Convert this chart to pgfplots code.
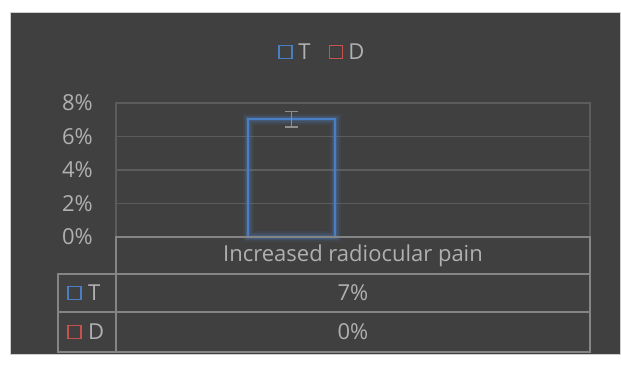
\documentclass[border=0pt]{standalone}
\usepackage{pgfplots}
\pgfplotsset{compat=1.18}
\usepackage{fontspec}
\setmainfont{Open Sans}

\definecolor{panelbg}{HTML}{404040}
\definecolor{paneledge}{HTML}{CFCFCF}
\definecolor{gridgray}{HTML}{5C5C5C}
\definecolor{tablegray}{HTML}{858585}
\definecolor{labelgray}{HTML}{B0B0B0}
\definecolor{errgray}{HTML}{8F8F8F}
\definecolor{tblue}{HTML}{4A7EC4}
\definecolor{dred}{HTML}{C8504D}

\newcommand{\lblfont}{\fontsize{22}{26}\selectfont}
\newcommand{\tickfont}{\fontsize{22}{26}\selectfont}

\begin{document}
\begin{tikzpicture}
  % page and dark chart panel
  \fill[white] (0pt,0pt) rectangle (621pt,366pt);
  \filldraw[fill=panelbg,draw=paneledge,line width=1pt] (10.5pt,11pt) rectangle (620pt,353pt);

  \begin{axis}[
    at={(116pt,129pt)}, anchor=south west,
    scale only axis, width=474pt, height=134pt,
    xmin=0, xmax=1, ymin=0, ymax=0.08,
    xtick=\empty,
    ytick={0,0.02,0.04,0.06,0.08},
    yticklabels={0\%,2\%,4\%,6\%,8\%},
    scaled y ticks=false,
    yticklabel style={anchor=east, inner sep=0pt, xshift=-23pt, text=labelgray, font=\tickfont},
    major tick length=0pt,
    ymajorgrids,
    grid style={draw=gridgray, line width=1.2pt},
    axis line style={draw=gridgray, line width=1.2pt},
    ybar, bar width=87pt,
    clip=false,
    legend style={at={(0.435,1.38)}, anchor=center, draw=none, fill=none,
      text=labelgray, font=\lblfont, legend columns=2,
      /tikz/every even column/.append style={column sep=16pt},
      inner sep=0pt},
  ]
    % soft glow around the T bar
    \addplot[forget plot, bar shift=-61.5pt, draw=tblue, draw opacity=0.10, line width=11pt, fill=none]
      coordinates {(0.5,0.0702)};
    \addplot[forget plot, bar shift=-61.5pt, draw=tblue, draw opacity=0.18, line width=7pt, fill=none]
      coordinates {(0.5,0.0702)};
    \addplot[forget plot, bar shift=-61.5pt, draw=tblue, draw opacity=0.25, line width=4pt, fill=none]
      coordinates {(0.5,0.0702)};
    % T bar with its error bar
    \addplot[bar shift=-61.5pt, draw=tblue, line width=2pt, fill=none,
      legend image code/.code={\draw[tblue, line width=1.8pt] (0pt,-6.5pt) rectangle (13pt,6.5pt);
        \path (16.5pt,0pt);},
      error bars/.cd, y dir=both, y explicit,
      error bar style={draw=errgray, line width=1.6pt},
      error mark=-, error mark options={draw=errgray, line width=1.6pt, mark size=6.5pt, rotate=90}]
      table[x=x, y=y, y error=e] {
        x   y      e
        0.5 0.0702 0.0047
      };
    \addlegendentry{T}
    % D bar
    \addplot[bar shift=61.5pt, draw=dred, line width=0.6pt, fill=none,
      legend image code/.code={\draw[dred, line width=1.8pt] (0pt,-6.5pt) rectangle (13pt,6.5pt);
        \path (16.5pt,0pt);}]
      coordinates {(0.5,0)};
    \addlegendentry{D}
  \end{axis}

  % data table under the plot
  \begin{scope}[draw=tablegray, line width=1.3pt]
    \draw (116pt,129pt) rectangle (590pt,92pt);
    \draw (58pt,92pt) rectangle (590pt,54pt);
    \draw (58pt,54pt) rectangle (590pt,14pt);
    \draw (116pt,92pt) -- (116pt,14pt);
  \end{scope}
  \begin{scope}[every node/.style={text=labelgray, font=\lblfont, inner sep=0pt}]
    \node at (353pt,110.5pt) {Increased radiocular pain};
    \node at (353pt,73pt) {7\%};
    \node at (353pt,34pt) {0\%};
    \draw[tblue, line width=1.8pt] (68pt,66.5pt) rectangle (81pt,79.5pt);
    \node[anchor=west] at (88pt,73pt) {T};
    \draw[dred, line width=1.8pt] (68pt,27.5pt) rectangle (81pt,40.5pt);
    \node[anchor=west] at (88pt,34pt) {D};
  \end{scope}
\end{tikzpicture}
\end{document}
